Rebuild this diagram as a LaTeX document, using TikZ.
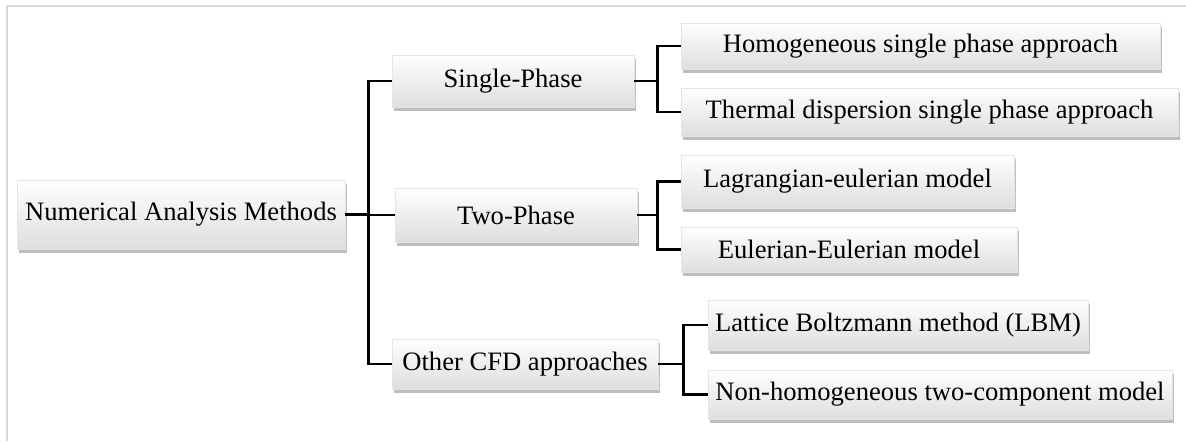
\documentclass[tikz,border=0pt]{standalone}
\usepackage{fontspec}
\setmainfont{Liberation Serif}
\usetikzlibrary{shadows}

\begin{document}
\begin{tikzpicture}[x=0.5pt, y=-0.5pt,
    box/.style={top color=white, bottom color=gray!26, draw=gray!20, line width=0.3pt,
      drop shadow={shadow xshift=0.8pt, shadow yshift=-1.8pt, opacity=0.6, fill=gray!85},
      inner sep=2pt, font=\fontsize{13.3}{16}\selectfont},
    link/.style={line width=1.2pt, black}]
    \useasboundingbox (0,0) rectangle (1186,441);
    % Frame
    \draw[gray!30, line width=0.8pt] (7,441) -- (7,6) -- (1186,6);

    % Root
    \node[box, minimum width=164pt, minimum height=34.5pt] (nam) at (181,214.5) {Numerical Analysis Methods};

    % First level
    \node[box, minimum width=121pt, minimum height=26pt] (sph) at (513,81) {Single-Phase};
    \node[box, minimum width=121pt, minimum height=27pt] (tph) at (516,215) {Two-Phase};
    \node[box, minimum width=133pt, minimum height=25pt] (cfd) at (525,364) {Other CFD approaches};

    % Second level
    \node[box, minimum width=239.5pt, minimum height=23pt] (hom) at (920.5,46) {Homogeneous single phase approach};
    \node[box, minimum width=248.5pt, minimum height=24pt] (thd) at (929.5,112) {Thermal dispersion single phase approach};
    \node[box, minimum width=166.5pt, minimum height=26.5pt] (lag) at (847.5,181.5) {Lagrangian-eulerian model};
    \node[box, minimum width=168pt, minimum height=22.5pt] (eul) at (849,249.5) {Eulerian-Eulerian model};
    \node[box, minimum width=190pt, minimum height=25pt] (lbm) at (898,325) {Lattice Boltzmann method (LBM)};
    \node[box, minimum width=232pt, minimum height=24.5pt] (nhc) at (940,394.5) {Non-homogeneous two-component model};

    % Connectors
    \draw[link, line width=1.6pt] (nam.east) -- ++(23,0) coordinate (namj);
    \draw[link] (namj) |- (sph.west);
    \draw[link] (namj) |- (tph.west);
    \draw[link] (namj) |- (cfd.west);

    \draw[link] (sph.east) -- ++(23,0) coordinate (sphj);
    \draw[link] (sphj) |- (hom.west);
    \draw[link] (sphj) |- (thd.west);

    \draw[link] (tph.east) -- ++(20,0) coordinate (tphj);
    \draw[link] (tphj) |- (lag.west);
    \draw[link] (tphj) |- (eul.west);

    \draw[link] (cfd.east) -- ++(25,0) coordinate (cfdj);
    \draw[link] (cfdj) |- (lbm.west);
    \draw[link] (cfdj) |- (nhc.west);
\end{tikzpicture}
\end{document}
